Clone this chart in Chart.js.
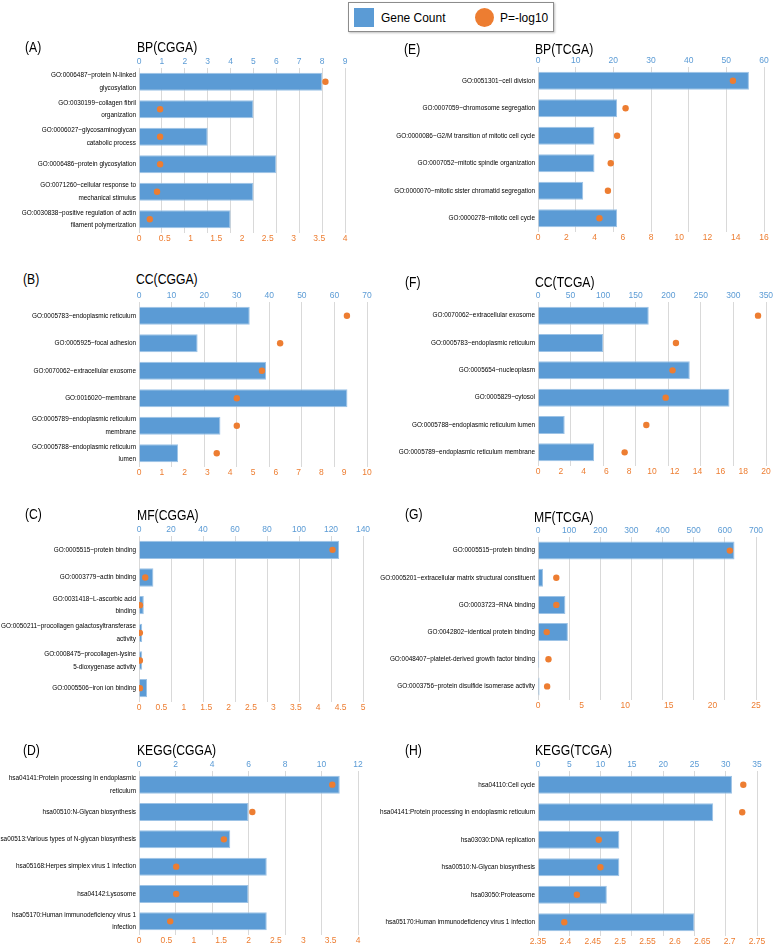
<!DOCTYPE html>
<html>
<head>
<meta charset="utf-8">
<script src="https://cdn.jsdelivr.net/npm/chart.js@4.4.1/dist/chart.umd.min.js"></script>
<style>
body { margin: 0; background: #fff; width: 774px; height: 945px; position: relative; overflow: hidden; font-family: 'Liberation Sans', Arial, sans-serif; }
canvas { position: absolute; }
.lbl { position: absolute; font-family: 'Liberation Sans', Arial, sans-serif; font-size: 14px; line-height: 18px; color: #000; white-space: nowrap; transform: scaleX(0.87); transform-origin: 0 50%; }
#legend { position: absolute; left: 348px; top: 2px; width: 204px; height: 28px; border: 1px solid #8c8c8c; box-shadow: 1px 1px 2px rgba(0,0,0,0.25); }
#legend .sq { position: absolute; left: 5px; top: 5px; width: 20px; height: 19px; background: #5b9bd5; }
#legend .dot { position: absolute; left: 126px; top: 5px; width: 19px; height: 19px; border-radius: 50%; background: #ed7d31; }
#legend .t { position: absolute; top: 6px; font-size: 13px; line-height: 17px; color: #000; transform: scaleX(0.92); transform-origin: 0 50%; }
</style>
</head>
<body>
<div id="legend">
  <span class="sq"></span><span class="t" style="left:32px">Gene Count</span>
  <span class="dot"></span><span class="t" style="left:151px">P=-log10</span>
</div>
<script>
const BLUE = '#5b9bd5';
const ORANGE = '#ed7d31';
const FONT = "'Liberation Sans', Arial, sans-serif";

// (A) BP(CGGA)
const bpCggaTerms = [
  ['GO:0006487~protein N-linked', 'glycosylation'],
  ['GO:0030199~collagen fibril', 'organization'],
  ['GO:0006027~glycosaminoglycan', 'catabolic process'],
  'GO:0006486~protein glycosylation',
  ['GO:0071260~cellular response to', 'mechanical stimulus'],
  ['GO:0030838~positive regulation of actin', 'filament polymerization']
];
const bpCggaCounts = [8, 5, 3, 6, 5, 4];
const bpCggaLogP = [3.62, 0.41, 0.41, 0.41, 0.35, 0.21];

// (B) CC(CGGA)
const ccCggaTerms = [
  'GO:0005783~endoplasmic reticulum',
  'GO:0005925~focal adhesion',
  'GO:0070062~extracellular exosome',
  'GO:0016020~membrane',
  ['GO:0005789~endoplasmic reticulum', 'membrane'],
  ['GO:0005788~endoplasmic reticulum', 'lumen']
];
const ccCggaCounts = [34, 18, 39, 64, 25, 12];
const ccCggaLogP = [9.12, 6.19, 5.39, 4.29, 4.29, 3.41];

// (C) MF(CGGA)
const mfCggaTerms = [
  'GO:0005515~protein binding',
  'GO:0003779~actin binding',
  ['GO:0031418~L-ascorbic acid', 'binding'],
  ['GO:0050211~procollagen galactosyltransferase', 'activity'],
  ['GO:0008475~procollagen-lysine', '5-dioxygenase activity'],
  'GO:0005506~iron ion binding'
];
const mfCggaCounts = [125, 9, 3, 2, 2, 5];
const mfCggaLogP = [4.32, 0.14, 0.02, 0.02, 0.02, 0.02];

// (D) KEGG(CGGA)
const keggCggaTerms = [
  ['hsa04141:Protein processing in endoplasmic', 'reticulum'],
  'hsa00510:N-Glycan biosynthesis',
  'hsa00513:Various types of N-glycan biosynthesis',
  'hsa05168:Herpes simplex virus 1 infection',
  'hsa04142:Lysosome',
  ['hsa05170:Human immunodeficiency virus 1', 'infection']
];
const keggCggaCounts = [11, 6, 5, 7, 6, 7];
const keggCggaLogP = [3.53, 2.07, 1.55, 0.68, 0.68, 0.57];

// (E) BP(TCGA)
const bpTcgaTerms = [
  'GO:0051301~cell division',
  'GO:0007059~chromosome segregation',
  'GO:0000086~G2/M transition of mitotic cell cycle',
  'GO:0007052~mitotic spindle organization',
  'GO:0000070~mitotic sister chromatid segregation',
  'GO:0000278~mitotic cell cycle'
];
const bpTcgaCounts = [56, 21, 15, 15, 12, 21];
const bpTcgaLogP = [13.8, 6.2, 5.6, 5.15, 4.95, 4.35];

// (F) CC(TCGA)
const ccTcgaTerms = [
  'GO:0070062~extracellular exosome',
  'GO:0005783~endoplasmic reticulum',
  'GO:0005654~nucleoplasm',
  'GO:0005829~cytosol',
  'GO:0005788~endoplasmic reticulum lumen',
  'GO:0005789~endoplasmic reticulum membrane'
];
const ccTcgaCounts = [170, 100, 233, 294, 41, 86];
const ccTcgaLogP = [19.3, 12.1, 11.8, 11.2, 9.5, 7.6];

// (G) MF(TCGA)
const mfTcgaTerms = [
  'GO:0005515~protein binding',
  'GO:0005201~extracellular matrix structural constituent',
  'GO:0003723~RNA binding',
  'GO:0042802~identical protein binding',
  'GO:0048407~platelet-derived growth factor binding',
  'GO:0003756~protein disulfide isomerase activity'
];
const mfTcgaCounts = [631, 16, 88, 96, 4, 5];
const mfTcgaLogP = [22, 2.1, 2.1, 1.0, 1.2, 1.05];

// (H) KEGG(TCGA)
const keggTcgaTerms = [
  'hsa04110:Cell cycle',
  'hsa04141:Protein processing in endoplasmic reticulum',
  'hsa03030:DNA replication',
  'hsa00510:N-Glycan biosynthesis',
  'hsa03050:Proteasome',
  'hsa05170:Human immunodeficiency virus 1 infection'
];
const keggTcgaCounts = [31, 28, 13, 13, 11, 25];
const keggTcgaLogP = [2.725, 2.723, 2.461, 2.464, 2.421, 2.398];

// axis ranges [min, max, step]
const panels = [
  { tag: '(A)', title: 'BP(CGGA)', terms: bpCggaTerms, counts: bpCggaCounts, logp: bpCggaLogP,
    countAxis: [0, 9, 1], pAxis: [0, 4, 0.5], cx: 0, box: [139, 345, 68, 233], tagAt: [25, 47], titleAt: [137, 47] },
  { tag: '(B)', title: 'CC(CGGA)', terms: ccCggaTerms, counts: ccCggaCounts, logp: ccCggaLogP,
    countAxis: [0, 70, 10], pAxis: [0, 10, 1], cx: 0, box: [139, 367, 302, 467], tagAt: [23, 279], titleAt: [136, 279] },
  { tag: '(C)', title: 'MF(CGGA)', terms: mfCggaTerms, counts: mfCggaCounts, logp: mfCggaLogP,
    countAxis: [0, 140, 20], pAxis: [0, 5, 0.5], cx: 0, box: [139, 363, 536, 702], tagAt: [25, 514], titleAt: [137, 515] },
  { tag: '(D)', title: 'KEGG(CGGA)', terms: keggCggaTerms, counts: keggCggaCounts, logp: keggCggaLogP,
    countAxis: [0, 12, 2], pAxis: [0, 4, 0.5], cx: 0, box: [139, 358, 771, 935], tagAt: [23, 750], titleAt: [137, 750] },
  { tag: '(E)', title: 'BP(TCGA)', terms: bpTcgaTerms, counts: bpTcgaCounts, logp: bpTcgaLogP,
    countAxis: [0, 60, 10], pAxis: [0, 16, 2], cx: 372, box: [538, 764, 67, 232], tagAt: [404, 49], titleAt: [535, 49] },
  { tag: '(F)', title: 'CC(TCGA)', terms: ccTcgaTerms, counts: ccTcgaCounts, logp: ccTcgaLogP,
    countAxis: [0, 350, 50], pAxis: [0, 20, 2], cx: 372, box: [538, 766, 302, 466], tagAt: [405, 282], titleAt: [535, 282] },
  { tag: '(G)', title: 'MF(TCGA)', terms: mfTcgaTerms, counts: mfTcgaCounts, logp: mfTcgaLogP,
    countAxis: [0, 700, 100], pAxis: [0, 25, 5], cx: 372, box: [538, 756, 537, 700], tagAt: [405, 514], titleAt: [534, 517] },
  { tag: '(H)', title: 'KEGG(TCGA)', terms: keggTcgaTerms, counts: keggTcgaCounts, logp: keggTcgaLogP,
    countAxis: [0, 35, 5], pAxis: [2.35, 2.75, 0.05], cx: 372, box: [538, 757, 771, 936], tagAt: [405, 750], titleAt: [535, 750] }
];

const fmt = v => String(Number(v.toFixed(3)));

function addText(txt, x, y) {
  const d = document.createElement('div');
  d.className = 'lbl';
  d.textContent = txt;
  d.style.left = x + 'px';
  d.style.top = (y - 9) + 'px';
  document.body.appendChild(d);
}

function fitX(s) {
  s.height = 14;
  s.paddingLeft = 0;
  s.paddingRight = 0;
}

panels.forEach(p => {
  const [l, r, t, b] = p.box;
  const cv = document.createElement('canvas');
  cv.width = r - p.cx + 16;
  cv.height = b - t + 28;
  cv.style.left = p.cx + 'px';
  cv.style.top = (t - 14) + 'px';
  document.body.appendChild(cv);

  addText(p.tag, p.tagAt[0], p.tagAt[1]);
  addText(p.title, p.titleAt[0], p.titleAt[1]);

  new Chart(cv, {
    type: 'bar',
    data: {
      labels: p.terms,
      datasets: [
        {
          type: 'line',
          label: 'P=-log10',
          data: p.logp,
          indexAxis: 'y',
          xAxisID: 'x2',
          yAxisID: 'y',
          showLine: false,
          pointRadius: 3.2,
          pointBackgroundColor: ORANGE,
          pointBorderColor: ORANGE,
          pointBorderWidth: 0,
          order: 0
        },
        {
          type: 'bar',
          label: 'Gene Count',
          data: p.counts,
          xAxisID: 'x',
          yAxisID: 'y',
          backgroundColor: BLUE,
          borderColor: '#9dc3e6',
          borderWidth: 1,
          barPercentage: 0.66,
          categoryPercentage: 1,
          order: 1
        }
      ]
    },
    options: {
      indexAxis: 'y',
      responsive: false,
      animation: false,
      devicePixelRatio: 1,
      layout: { padding: { right: 16 } },
      plugins: { legend: { display: false }, tooltip: { enabled: false } },
      scales: {
        x: {
          type: 'linear',
          position: 'top',
          min: p.countAxis[0],
          max: p.countAxis[1],
          ticks: { stepSize: p.countAxis[2], color: BLUE, font: { size: 8.5, family: FONT }, padding: 1,
                   maxRotation: 0, autoSkip: false, callback: fmt },
          grid: { color: '#d9d9d9', drawTicks: false },
          border: { display: false },
          afterFit: fitX
        },
        x2: {
          type: 'linear',
          axis: 'x',
          position: 'bottom',
          min: p.pAxis[0],
          max: p.pAxis[1],
          ticks: { stepSize: p.pAxis[2], color: ORANGE, font: { size: 8.5, family: FONT }, padding: 1,
                   maxRotation: 0, autoSkip: false, callback: fmt },
          grid: { display: false, drawTicks: false },
          border: { display: false },
          afterFit: fitX
        },
        y: {
          type: 'category',
          ticks: { color: '#000', font: { size: 6.4, family: FONT, lineHeight: '12.5px' }, padding: 3, autoSkip: false },
          grid: { display: false, drawTicks: false },
          border: { display: false },
          afterFit: s => { s.width = l - p.cx; s.paddingTop = 0; s.paddingBottom = 0; }
        }
      }
    }
  });
});
</script>
</body>
</html>
